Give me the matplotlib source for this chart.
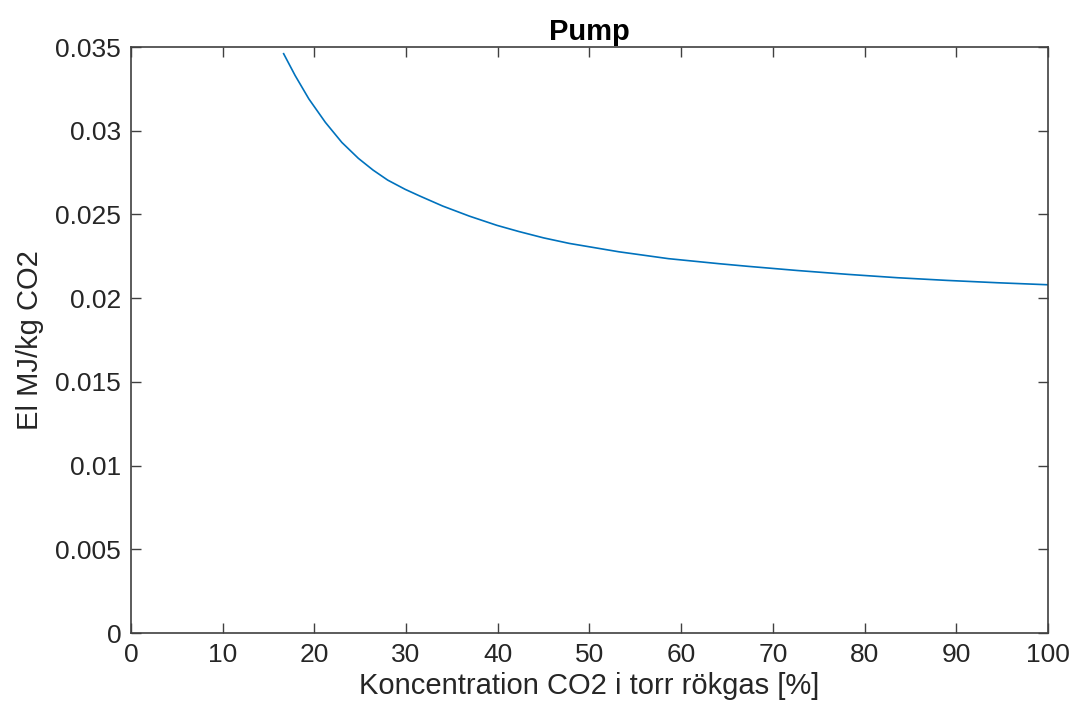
import matplotlib
matplotlib.use("Agg")
import matplotlib.pyplot as plt

# values
conc = [16.65, 17.9, 19.4, 21.2, 23.0, 24.8, 26.4, 28.0, 29.9, 31.5, 34.0,
        36.9, 39.9, 42.3, 45.0, 47.8, 53.2, 58.6, 64.1, 67.3, 72.7, 78.2,
        83.6, 89.0, 94.5, 100.0]
el = [0.0346, 0.0333, 0.0319, 0.0305, 0.0293, 0.02835, 0.02765, 0.02705,
      0.02650, 0.02610, 0.02550, 0.02490, 0.02435, 0.02398, 0.02360, 0.02327,
      0.02277, 0.02236, 0.02206, 0.02190, 0.02165, 0.02142, 0.02122, 0.02106,
      0.02092, 0.0208]

xticks = list(range(0, 101, 10))
yticks = [0, 0.005, 0.01, 0.015, 0.02, 0.025, 0.03, 0.035]
ytick_labels = ["0", "0.005", "0.01", "0.015", "0.02", "0.025", "0.03", "0.035"]

plt.rcParams['font.family'] = ['Liberation Sans', 'DejaVu Sans']
axcol = '#404040'
txtcol = '#262626'

fig = plt.figure(figsize=(10.76, 7.19), dpi=100)
ax = fig.add_axes([0.1217, 0.1196, 0.974 - 0.1217, 0.9346 - 0.1196])

ax.plot(conc, el, color='#0072BD', lw=1.2)

ax.set_xlim(0, 100)
ax.set_ylim(0, 0.035)
ax.set_xticks(xticks)
ax.set_yticks(yticks)
ax.set_yticklabels(ytick_labels)

ax.tick_params(direction='in', length=7, width=1, colors=axcol,
               labelcolor=txtcol, labelsize=19, top=True, right=True, pad=7)
for s in ax.spines.values():
    s.set_color(axcol)
    s.set_linewidth(1.2)

ax.set_title("Pump", fontsize=21, fontweight='bold', color='black', pad=5)
ax.set_xlabel("Koncentration CO2 i torr rökgas [%]", fontsize=21, color=txtcol, labelpad=4)
ax.set_ylabel("El MJ/kg CO2", fontsize=21, color=txtcol, labelpad=8)

fig.savefig("out.png", dpi=100)
